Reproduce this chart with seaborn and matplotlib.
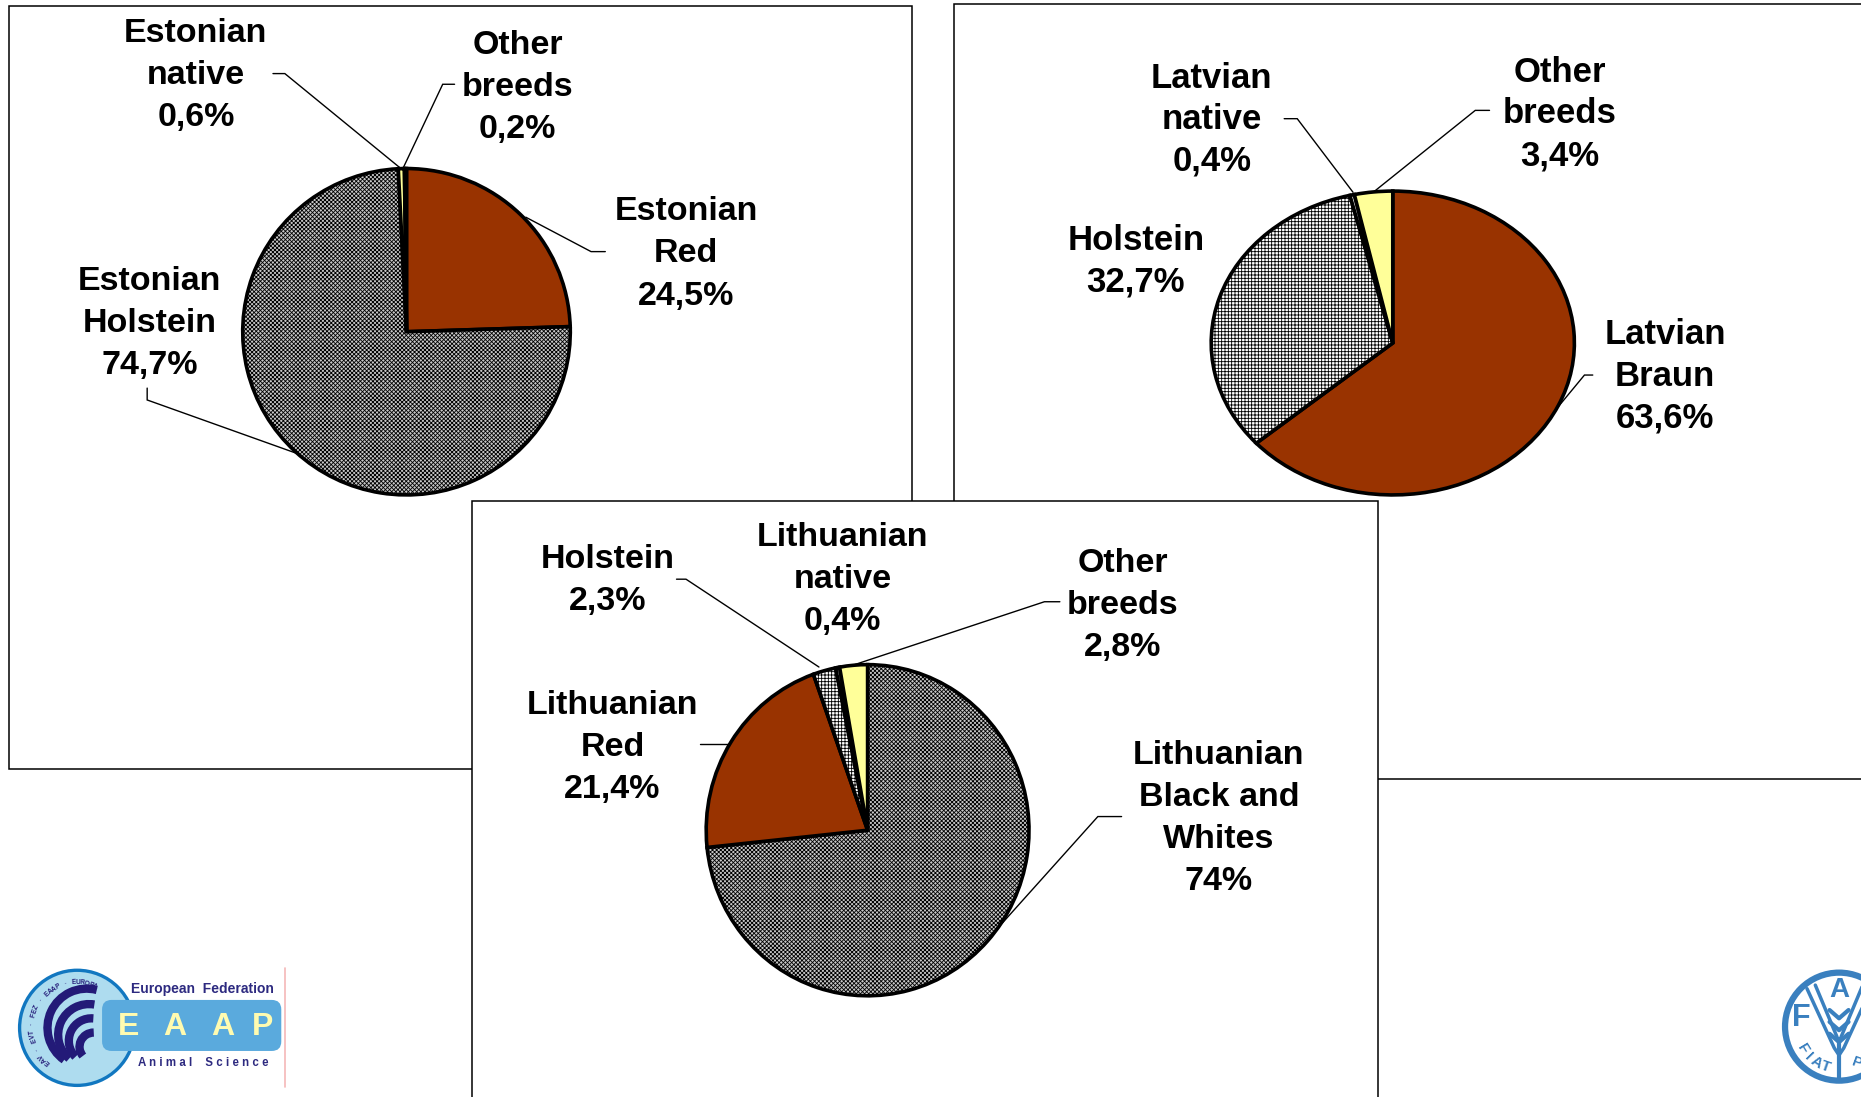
import numpy as np
import matplotlib
matplotlib.use("Agg")
import matplotlib.pyplot as plt
from matplotlib.patches import Rectangle, Circle, FancyBboxPatch, Arc
import seaborn as sns

# ---------- data ----------
est_names = ["Estonian\nRed", "Estonian\nHolstein", "Estonian\nnative", "Other\nbreeds"]
est_values = [24.5, 74.7, 0.6, 0.2]
lat_names = ["Latvian\nBraun", "Holstein", "Latvian\nnative", "Other\nbreeds"]
lat_values = [63.6, 32.7, 0.4, 3.4]
lit_names = ["Lithuanian\nBlack and\nWhites", "Lithuanian\nRed", "Holstein", "Lithuanian\nnative", "Other\nbreeds"]
lit_values = [74, 21.4, 2.3, 0.4, 2.8]

RED, YEL, GREY, WHITE = "#993300", "#FFFF99", "#c8c8c8", "#ffffff"
est_style = [(RED, None), (GREY, "dense"), (YEL, None), (WHITE, None)]
lat_style = [(RED, None), (WHITE, "grid"), (WHITE, None), (YEL, None)]
lit_style = [(GREY, "dense"), (RED, None), (WHITE, "grid"), (WHITE, None), (YEL, None)]

# ---------- layout helpers (reference measured on a 1568-wide view) ----------
W, H = 1861, 1097
S = W / 1568
sns.set_theme(style="white")
plt.rcParams["font.family"] = ["Liberation Sans", "DejaVu Sans"]
plt.rcParams["hatch.linewidth"] = 0.6
fig = plt.figure(figsize=(W / 100, H / 100), dpi=100, facecolor="white")

bg = fig.add_axes([0, 0, 1, 1], zorder=0)
ov = fig.add_axes([0, 0, 1, 1], zorder=5)
for a in (bg, ov):
    a.set_xlim(0, W / S)
    a.set_ylim(H / S, 0)
    a.axis("off")
    a.patch.set_alpha(0)

# frames
for i, (x0, y0, x1, y1) in enumerate([(8, 5, 768, 648), (803.5, 3.5, 1600, 656), (397.5, 422, 1161, 960)]):
    bg.add_patch(Rectangle((x0, y0), x1 - x0, y1 - y0, fc="white", ec="black", lw=1.1, zorder=i + 1))


def pie(values, styles, cx, cy, rx, ry):
    ax = fig.add_axes([(cx - rx) * S / W, 1 - (cy + ry) * S / H, 2 * rx * S / W, 2 * ry * S / H], zorder=3)
    wedges, _ = ax.pie(values, startangle=90, counterclock=False, radius=1,
                       wedgeprops=dict(edgecolor="black", linewidth=2.6), normalize=True)
    for w, (fc, h) in zip(wedges, styles):
        w.set_facecolor(fc)
        if h == "dense":
            w.set_hatch("xxxxxxxx")
        elif h == "grid":
            w.set_hatch("+++++")
    ax.set_aspect("auto")
    ax.set_xlim(-1, 1)
    ax.set_ylim(-1, 1)
    ax.patch.set_alpha(0)
    for sp in ax.spines.values():
        sp.set_visible(False)
    for art in ax.patches:
        art.set_clip_on(False)
    return ax


pie(est_values, est_style, 342.5, 279.5, 138, 137.5)
pie(lat_values, lat_style, 1173.5, 289, 153, 128)
pie(lit_values, lit_style, 731, 699.5, 136, 139.5)


def lab(name, val, x, y, size=24.5, ls=1.46):
    txt = name + "\n" + str(val).replace(".", ",") + "%"
    ov.text(x, y, txt, ha="center", va="center", fontsize=size, fontweight="bold",
            color="black", linespacing=ls, multialignment="center")


# labels: name, value, centre of text block
lab(est_names[2], est_values[2], 165, 63.5)
lab(est_names[3], est_values[3], 436, 73.5)
lab(est_names[0], est_values[0], 578, 214)
lab(est_names[1], est_values[1], 126, 272.5)
lab(lat_names[2], lat_values[2], 1021, 101, 25, 1.33)
lab(lat_names[3], lat_values[3], 1314, 96, 25, 1.33)
lab(lat_names[1], lat_values[1], 957, 220.5, 25, 1.33)
lab(lat_names[0], lat_values[0], 1403, 317, 25, 1.33)
lab(lit_names[2], lit_values[2], 512, 489.5)
lab(lit_names[3], lit_values[3], 710, 488.5)
lab(lit_names[4], lit_values[4], 946, 510)
lab(lit_names[1], lit_values[1], 516, 629.5)
lab(lit_names[0], lit_values[0], 1027, 689.5)

# leader lines
leaders = [
    [(230, 62), (240, 62), (339, 143)],
    [(383, 71), (373, 71), (339, 143)],
    [(510, 212), (498, 212), (443, 183)],
    [(124, 327), (124, 337), (250, 382)],
    [(1082, 100), (1093, 100), (1140, 162)],
    [(1255, 93), (1243, 93), (1157, 162)],
    [(1342, 316), (1335, 316), (1311, 345)],
    [(570, 488), (578, 488), (690, 562)],
    [(893, 507), (880, 507), (720, 560)],
    [(590, 627), (614, 627)],
    [(945, 688), (925, 688), (838, 785)],
]
for pts in leaders:
    xs, ys = zip(*pts)
    ov.plot(xs, ys, color="black", lw=1.0, solid_joinstyle="miter")

# ---------- EAAP logo ----------
NAVY = "#231a78"
cx, cy = 65, 866
bg.add_patch(Circle((cx, cy), 48.5, fc="#aedcef", ec="#1177c0", lw=2.4, zorder=5))
for r, th1, th2, lw, dx, dy in [(33, 75, 235, 6, 8, 0), (26, 80, 230, 6, 10, 6), (19, 85, 225, 6, 12, 11), (12, 90, 220, 6, 14, 16)]:
    bg.add_patch(Arc((cx + dx, cy + dy), 2 * r, 2 * r, theta1=360 - th2, theta2=360 - th1, color=NAVY, lw=lw, zorder=6))
ring = "EAV · EVT · FEZ · EAAP · EUROPA"
for i, ch in enumerate(ring):
    a = np.deg2rad(229 - i * 5.4)
    bg.text(cx + 38 * np.cos(a), cy - 38 * np.sin(a), ch, fontsize=4.8, fontweight="bold", color=NAVY,
            rotation=np.rad2deg(a) - 90, ha="center", va="center", zorder=6)
bg.add_patch(FancyBboxPatch((86, 842.5), 151, 43, boxstyle="round,pad=0,rounding_size=8", fc="#5aaadd", ec="none", zorder=7))
for x, ch in zip([108, 147, 188, 221], "EAAP"):
    bg.text(x, 865, ch, fontsize=23, fontweight="bold", color="#fffbb0", ha="center", va="center", zorder=8)
bg.text(170.5, 833.5, "European  Federation", fontsize=10, fontweight="bold", color="#2d2a80", ha="center", va="center", zorder=8)
bg.text(171, 895.5, "A n i m a l    S c i e n c e", fontsize=8.3, fontweight="bold", color="#2d2a80", ha="center", va="center", zorder=8)
bg.plot([240, 240], [816, 916], color="#f5b8b8", lw=1.2, zorder=8)

# ---------- FAO logo ----------
BL = "#3a80bf"
fx, fy = 1549.5, 865
bg.add_patch(Circle((fx, fy), 45.5, fc="white", ec=BL, lw=4.5, zorder=5))
bg.text(fx - 32, fy - 7, "F", fontsize=22, fontweight="bold", color=BL, ha="center", va="center", zorder=6)
bg.text(fx, fy - 31, "A", fontsize=20, fontweight="bold", color=BL, ha="center", va="center", zorder=6)
bg.plot([fx - 27, fx - 4, fx], [fy - 32, fy + 18, fy + 24], color=BL, lw=2.5, zorder=6)
bg.plot([fx - 20, fx - 2, fx], [fy - 35, fy + 8, fy + 14], color=BL, lw=2.5, zorder=6)
bg.plot([fx + 27, fx + 4, fx], [fy - 32, fy + 18, fy + 24], color=BL, lw=2.5, zorder=6)
bg.plot([fx + 20, fx + 2, fx], [fy - 35, fy + 8, fy + 14], color=BL, lw=2.5, zorder=6)
bg.plot([fx, fx], [fy + 10, fy + 44], color=BL, lw=3, zorder=6)
for i, d in enumerate(np.linspace(-10, 10, 3)):
    bg.plot([fx - 8, fx, fx + 8], [fy + d - 4, fy + d + 3, fy + d - 4], color=BL, lw=3, zorder=6)
for ch, ang in zip("FIAT", [211, 224, 238, 251]):
    a = np.deg2rad(ang)
    bg.text(fx + 36 * np.cos(a), fy - 36 * np.sin(a), ch, fontsize=11, fontweight="bold", color=BL,
            rotation=ang + 90, ha="center", va="center", zorder=6)
bg.text(fx + 15, fy + 31, "P", fontsize=11, fontweight="bold", color=BL, rotation=-20, ha="center", va="center", zorder=6)

fig.savefig("out.png", dpi=100, facecolor="white")
